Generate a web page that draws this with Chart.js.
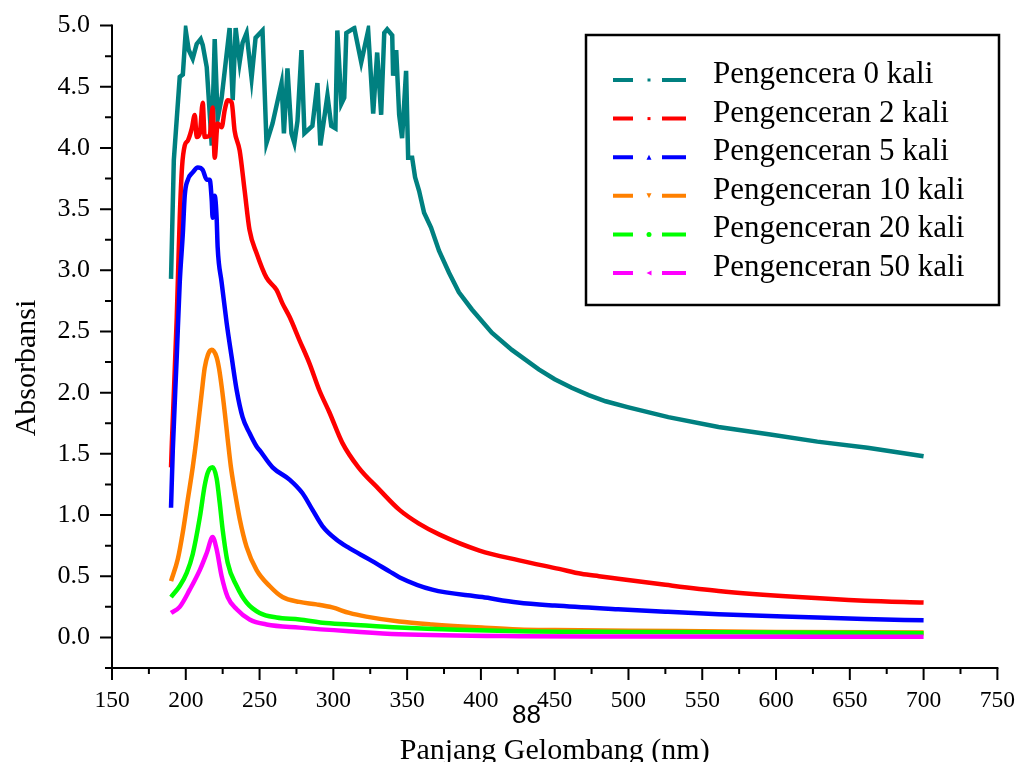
<!DOCTYPE html>
<html><head><meta charset="utf-8">
<script src="https://cdn.jsdelivr.net/npm/chart.js@4.4.1/dist/chart.umd.min.js"></script>
<style>html,body{margin:0;padding:0;background:#fff;overflow:hidden}canvas{display:block}</style>
</head><body>
<canvas id="c" width="1022" height="762"></canvas>
<script>
// ---------- DATA ----------
const seriesLabels = ['Pengencera 0 kali','Pengenceran 2 kali','Pengenceran 5 kali','Pengenceran 10 kali','Pengenceran 20 kali','Pengenceran 50 kali'];
const seriesColors = ['#008080','#ff0000','#0000ff','#ff8000','#00ff00','#ff00ff'];
const xTickValues = [150,200,250,300,350,400,450,500,550,600,650,700,750];
const yTickValues = [0.0,0.5,1.0,1.5,2.0,2.5,3.0,3.5,4.0,4.5,5.0];
const xAxisTitle = 'Panjang Gelombang (nm)';
const yAxisTitle = 'Absorbansi';
const pageNumber = '88';

// Pengencera 0 kali
const wl0 = [190,191.9,195.9,198,200,202,204.7,207.4,210.1,211.5,214.2,217.6,219.6,221.6,224.3,229.7,231.8,233.8,236.5,238.5,241.2,244.6,247.3,252,254.7,258.8,264.9,266.5,268.9,271.6,273.6,275.7,278.4,280.4,285.8,289.2,291.2,296,298.6,301.4,302.7,305.4,307.4,308.8,314.2,318.9,323.6,327,329.7,332.4,334.5,336.5,339.9,340.5,342.6,344.6,346.6,349.3,350.7,353.4,355.4,358.1,361.5,366.2,371.6,378.4,385.1,393.9,407.4,421,439.2,450,461.5,473,484.5,500,527,561,595,628,662,700];
const abs0 = [2.93,3.9,4.58,4.6,4.96,4.8,4.73,4.85,4.89,4.84,4.66,4.02,4.89,4.24,4.41,4.98,4.39,4.98,4.70,4.86,4.94,4.57,4.90,4.96,4.04,4.2,4.53,4.12,4.65,4.12,4.04,4.22,4.8,4.12,4.18,4.53,4.02,4.43,4.18,4.16,4.96,4.36,4.41,4.94,4.98,4.70,4.96,4.28,4.78,4.27,4.94,4.97,4.92,4.59,4.8,4.27,4.08,4.63,3.92,3.92,3.76,3.65,3.47,3.35,3.16,2.98,2.82,2.68,2.49,2.35,2.19,2.11,2.04,1.98,1.93,1.88,1.80,1.72,1.66,1.60,1.55,1.48];

// Pengenceran 2 kali
const wl1 = [190,190.6,193.9,195.9,197.5,199.3,201.4,204.1,206.1,207.4,209.5,211.5,212.8,216.2,218.2,219.6,221.6,224.3,226.4,228.4,231.1,233.1,236.5,239.9,243.2,248,254.7,261.5,265.5,270.3,277,283.8,290.5,297.3,306.1,317,331,345,358,372,399,426,453,468,480,493,525,561,615,660,700];
const abs1 = [1.39,1.6,2.62,3.43,3.85,4.02,4.06,4.16,4.27,4.09,4.12,4.37,4.09,4.1,4.33,3.92,4.2,4.17,4.31,4.39,4.37,4.14,3.98,3.65,3.33,3.14,2.94,2.84,2.73,2.62,2.43,2.24,2.02,1.84,1.59,1.39,1.21,1.04,0.93,0.84,0.71,0.63,0.56,0.52,0.50,0.48,0.43,0.38,0.33,0.30,0.285];

// Pengenceran 5 kali
const wl2 = [190,191.2,193.9,195.9,198,199.3,201.4,204.7,208.1,211.5,214.2,216.2,217.6,218.2,219.6,220.9,221.6,224.3,227.7,231.1,234.5,238.5,243.2,248,250,258.8,270.3,279,286,292.6,302,310.8,324,338,345,367,401,425,450,493,525,561,628,660,700];
const abs2 = [1.06,1.53,2.3,2.9,3.3,3.61,3.74,3.8,3.84,3.82,3.74,3.74,3.57,3.43,3.61,3.43,3.19,2.9,2.57,2.29,2.02,1.8,1.67,1.56,1.53,1.39,1.29,1.18,1.04,0.91,0.8,0.73,0.64,0.54,0.49,0.39,0.33,0.285,0.26,0.23,0.21,0.19,0.163,0.15,0.14];

// Pengenceran 10 kali
const wl3 = [190,194.6,198,201.4,204.7,207.4,210.8,212.8,215,217.6,220.9,222.5,224.3,226.4,228.4,230.5,233.1,236.5,241.2,248,256.8,265.5,277,288.5,299.3,310.8,322.3,344.6,366.9,400.7,425.7,450,500,600,700];
const abs3 = [0.46,0.64,0.86,1.13,1.39,1.64,2.0,2.2,2.31,2.35,2.29,2.2,2.05,1.84,1.62,1.4,1.2,0.97,0.74,0.55,0.42,0.33,0.29,0.27,0.245,0.2,0.17,0.13,0.106,0.08,0.065,0.06,0.055,0.045,0.04];

// Pengenceran 20 kali
const wl4 = [190,195.9,200.7,204.7,209.5,212.8,215,218.2,220.9,223,225,228.4,234.5,241.2,250,261.5,277,292.6,310.8,344.6,425.7,500,600,700];
const abs4 = [0.33,0.42,0.53,0.68,0.98,1.24,1.35,1.39,1.3,1.1,0.88,0.61,0.42,0.285,0.2,0.163,0.147,0.12,0.106,0.08,0.05,0.045,0.04,0.035];

// Pengenceran 50 kali
const wl5 = [190,195.9,202.7,209.5,214.2,218.2,220.9,224.3,228.4,234.5,243.2,254.7,277,310.8,344.6,425.7,500,700];
const abs5 = [0.2,0.25,0.39,0.55,0.69,0.82,0.72,0.5,0.33,0.23,0.147,0.106,0.08,0.05,0.025,0.01,0.008,0.005];

const allWl = [wl0,wl1,wl2,wl3,wl4,wl5];
const allAbs = [abs0,abs1,abs2,abs3,abs4,abs5];

// ---------- CHART ----------
const SERIF = '"Liberation Serif", "Times New Roman", serif';
const datasets = seriesLabels.map((lab,i) => ({
  label: lab,
  data: allWl[i].map((w,k) => ({x: w, y: allAbs[i][k]})),
  borderColor: seriesColors[i],
  backgroundColor: seriesColors[i],
  borderWidth: 4.5,
  pointRadius: 0,
  fill: false,
  tension: i === 0 ? 0 : 0.35,
  cubicInterpolationMode: i === 0 ? 'default' : 'monotone',
  order: 5 - i
}));

const axesPlugin = {
  id: 'axesPlugin',
  afterDatasetsDraw(chart) {
    const ctx = chart.ctx;
    const xs = chart.scales.x, ys = chart.scales.y;
    const axY = ys.getPixelForValue(ys.min);
    const axX = xs.getPixelForValue(xs.min);
    ctx.save();
    ctx.strokeStyle = '#000';
    ctx.lineWidth = 2;
    ctx.lineCap = 'butt';
    ctx.beginPath();
    ctx.moveTo(axX, ys.getPixelForValue(ys.max) - 1);
    ctx.lineTo(axX, axY + 1);
    ctx.moveTo(axX - 1, axY);
    ctx.lineTo(xs.getPixelForValue(xs.max) + 1, axY);
    ctx.stroke();
    ctx.beginPath();
    for (let v = 150; v <= 750; v += 25) {
      const px = xs.getPixelForValue(v);
      const len = (v % 50 === 0) ? 12 : 6;
      ctx.moveTo(px, axY);
      ctx.lineTo(px, axY + len);
    }
    for (let k = -1; k <= 20; k++) {
      const v = k * 0.25;
      const py = ys.getPixelForValue(v);
      const len = (k % 2 === 0) ? 12 : 7;
      ctx.moveTo(axX, py);
      ctx.lineTo(axX - len, py);
    }
    ctx.stroke();

    ctx.fillStyle = '#000';
    ctx.font = '30px ' + SERIF;
    ctx.textAlign = 'center';
    ctx.textBaseline = 'alphabetic';
    ctx.fillText(xAxisTitle, (xs.left + xs.right) / 2, 759);
    ctx.save();
    ctx.translate(35, 368);
    ctx.rotate(-Math.PI / 2);
    ctx.fillText(yAxisTitle, 0, 0);
    ctx.restore();

    ctx.font = '26px "Liberation Sans", Arial, sans-serif';
    ctx.textAlign = 'left';
    ctx.fillText(pageNumber, 512, 723);

    const bx = 586, by = 35, bw = 413, bh = 270;
    ctx.lineWidth = 2.5;
    ctx.strokeStyle = '#000';
    ctx.strokeRect(bx, by, bw, bh);
    const rowY0 = 80, rowStep = 38.6;
    ctx.font = '31px ' + SERIF;
    ctx.textAlign = 'left';
    for (let i = 0; i < seriesLabels.length; i++) {
      const y = rowY0 + i * rowStep;
      ctx.strokeStyle = seriesColors[i];
      ctx.fillStyle = seriesColors[i];
      ctx.lineWidth = 4;
      ctx.beginPath();
      ctx.moveTo(613, y); ctx.lineTo(633, y);
      ctx.moveTo(662, y); ctx.lineTo(686, y);
      ctx.stroke();
      const mx = 649, r = 2.5;
      ctx.beginPath();
      if (i === 2) { ctx.moveTo(mx, y - r); ctx.lineTo(mx + r, y + r); ctx.lineTo(mx - r, y + r); }
      else if (i === 3) { ctx.moveTo(mx - r, y - r); ctx.lineTo(mx + r, y - r); ctx.lineTo(mx, y + r); }
      else if (i === 5) { ctx.moveTo(mx - r, y); ctx.lineTo(mx + r, y - r); ctx.lineTo(mx + r, y + r); }
      else if (i === 4) { ctx.arc(mx, y, r, 0, Math.PI * 2); }
      else { ctx.rect(mx - 1.5, y - 1.5, 3, 3); }
      ctx.closePath();
      ctx.fill();
      ctx.fillStyle = '#000';
      ctx.fillText(seriesLabels[i], 713, y + 3);
    }
    ctx.restore();
  }
};

new Chart(document.getElementById('c'), {
  type: 'line',
  data: { datasets },
  options: {
    responsive: false,
    animation: false,
    devicePixelRatio: 1,
    layout: { padding: { left: 0, right: 22, top: 25, bottom: 0 } },
    plugins: { legend: { display: false }, title: { display: false }, tooltip: { enabled: false } },
    scales: {
      x: {
        type: 'linear', min: 150, max: 750,
        afterFit: (s) => { s.height = 94; },
        afterBuildTicks: (s) => { s.ticks = xTickValues.map(v => ({value: v})); },
        grid: { display: false, drawTicks: true, tickLength: 12 },
        border: { display: false },
        ticks: { color: '#000', font: { family: SERIF, size: 23.5 }, padding: 7, maxRotation: 0, autoSkip: false, callback: (v) => String(v) }
      },
      y: {
        type: 'linear', min: -0.25, max: 5.0,
        afterFit: (s) => { s.width = 112; },
        afterBuildTicks: (s) => { s.ticks = yTickValues.map(v => ({value: v})); },
        grid: { display: false, drawTicks: true, tickLength: 12 },
        border: { display: false },
        ticks: { color: '#000', font: { family: SERIF, size: 26 }, padding: 10, autoSkip: false, callback: (v) => Number(v).toFixed(1) }
      }
    }
  },
  plugins: [axesPlugin]
});
</script>
</body></html>
